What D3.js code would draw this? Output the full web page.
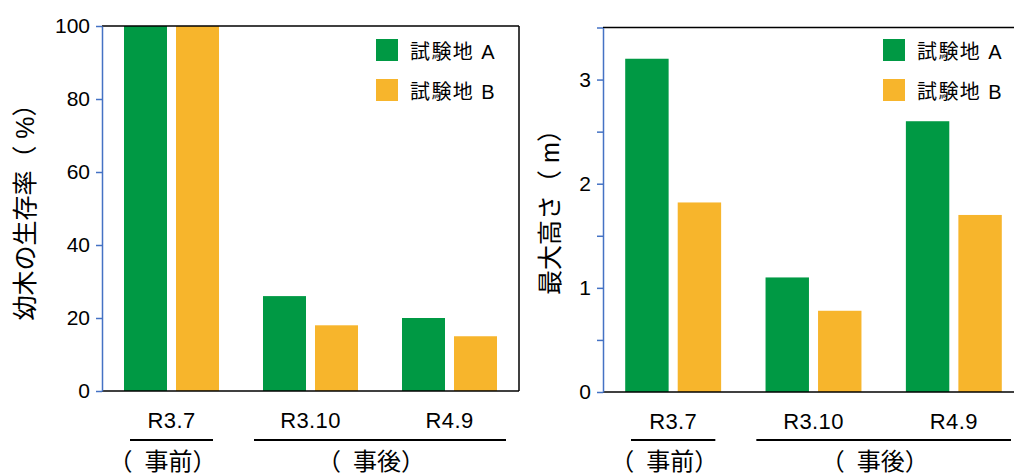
<!DOCTYPE html>
<html><head><meta charset="utf-8">
<script src="https://cdn.jsdelivr.net/npm/d3@7"></script>
<style>
body{margin:0;background:#fff;}
text{font-family:"Liberation Sans",Arial,"Noto Sans CJK JP",sans-serif;fill:#000;}
</style></head>
<body>
<svg id="c" width="1014" height="474"></svg>
<script>
const categories = ["R3.7", "R3.10", "R4.9"];
const seriesNames = ["試験地 A", "試験地 B"];
const survivalA = [100, 26, 20];
const survivalB = [100, 18, 15];
const heightA = [3.2, 1.1, 2.6];
const heightB = [1.82, 0.78, 1.7];
const survivalTicks = [0, 20, 40, 60, 80, 100];
const heightTicks = [0, 0.5, 1, 1.5, 2, 2.5, 3, 3.5];
const heightLabels = [0, 1, 2, 3];
const periodGroups = [{label: "（\u2002事前）", cats: ["R3.7"]}, {label: "（\u2002事後）", cats: ["R3.10", "R4.9"]}];
const colors = ["#009944", "#F7B52C"];

const svg = d3.select("#c");

function chart(opt) {
  const g = svg.append("g");
  const x = d3.scaleBand().domain(categories).range([opt.left, opt.right]);
  const xs = d3.scaleBand().domain(seriesNames).range([0, x.bandwidth()])
    .paddingInner(0.173).paddingOuter(0.423);
  const y = d3.scaleLinear().domain([0, opt.max]).range([opt.bottom, opt.top]);
  const data = categories.map((c, i) => ({cat: c, vals: [opt.a[i], opt.b[i]]}));

  // bars
  data.forEach(d => {
    d.vals.forEach((v, j) => {
      g.append("rect")
        .attr("x", x(d.cat) + xs(seriesNames[j]))
        .attr("width", xs.bandwidth())
        .attr("y", y(v))
        .attr("height", y(0) - y(v))
        .attr("fill", colors[j]);
    });
  });

  // frame: top, right, bottom black
  g.append("line").attr("x1", opt.left).attr("x2", opt.right).attr("y1", y(opt.max)).attr("y2", y(opt.max))
    .attr("stroke", "#000").attr("stroke-width", 1.5);
  g.append("line").attr("x1", opt.right).attr("x2", opt.right).attr("y1", y(opt.max)).attr("y2", y(0))
    .attr("stroke", "#000").attr("stroke-width", 1.5);
  g.append("line").attr("x1", opt.left).attr("x2", opt.right).attr("y1", y(0)).attr("y2", y(0))
    .attr("stroke", "#000").attr("stroke-width", 1.5);

  // y axis
  const ax = g.append("g").attr("transform", `translate(${opt.left},0)`)
    .call(d3.axisLeft(y).tickValues(opt.ticks).tickSize(6).tickSizeOuter(0)
      .tickFormat(d => opt.labels.includes(d) ? d3.format("d")(d) : ""));
  ax.select(".domain").attr("stroke", "#4472C4").attr("stroke-width", 1.5);
  ax.selectAll(".tick line").attr("stroke", "#4472C4").attr("stroke-width", 1.5);
  ax.selectAll(".tick text").attr("font-size", 21).attr("x", -12).attr("fill", "#000")
    .style("font-family", "'Liberation Sans',Arial,sans-serif");

  // x labels
  categories.forEach(c => {
    g.append("text").attr("x", x(c) + x.bandwidth() / 2).attr("y", opt.bottom + 37)
      .attr("text-anchor", "middle").attr("font-size", 22).attr("letter-spacing", 0.4).text(c);
  });
  // period groups
  periodGroups.forEach(p => {
    const x0 = x(p.cats[0]);
    const x1 = x(p.cats[p.cats.length - 1]) + x.bandwidth();
    const inset = p.cats.length === 1 ? 28 : 13;
    g.append("line").attr("x1", x0 + inset).attr("x2", x1 - inset)
      .attr("y1", 440).attr("y2", 440).attr("stroke", "#000").attr("stroke-width", 2);
    g.append("text").attr("x", (x0 + x1) / 2 - 9).attr("y", 470)
      .attr("text-anchor", "middle").attr("font-size", 24)
      .style("font-family", "'Noto Sans CJK JP',sans-serif").text(p.label);
  });

  // y title
  g.append("text")
    .attr("transform", `translate(${opt.titleX},206) rotate(-90)`)
    .attr("text-anchor", "middle").attr("dominant-baseline", "central")
    .attr("font-size", 25).text(opt.title);

  // legend
  seriesNames.forEach((s, j) => {
    const ly = 39 + j * 40;
    g.append("rect").attr("x", opt.legendX).attr("y", ly).attr("width", 22).attr("height", 22).attr("fill", colors[j]);
    g.append("text").attr("x", opt.legendX + 34).attr("y", ly + 20)
      .attr("font-size", 20).attr("letter-spacing", 1.4).text(s);
  });
}

chart({left: 102, right: 519, top: 26, bottom: 391, max: 100, a: survivalA, b: survivalB,
  ticks: survivalTicks, labels: survivalTicks, title: "幼木の生存率（ %）", titleX: 25, legendX: 376});
chart({left: 603, right: 1024, top: 27.5, bottom: 392, max: 3.5, a: heightA, b: heightB,
  ticks: heightTicks, labels: heightLabels, title: "最大高さ（ m）", titleX: 550, legendX: 883});
</script>
</body></html>
